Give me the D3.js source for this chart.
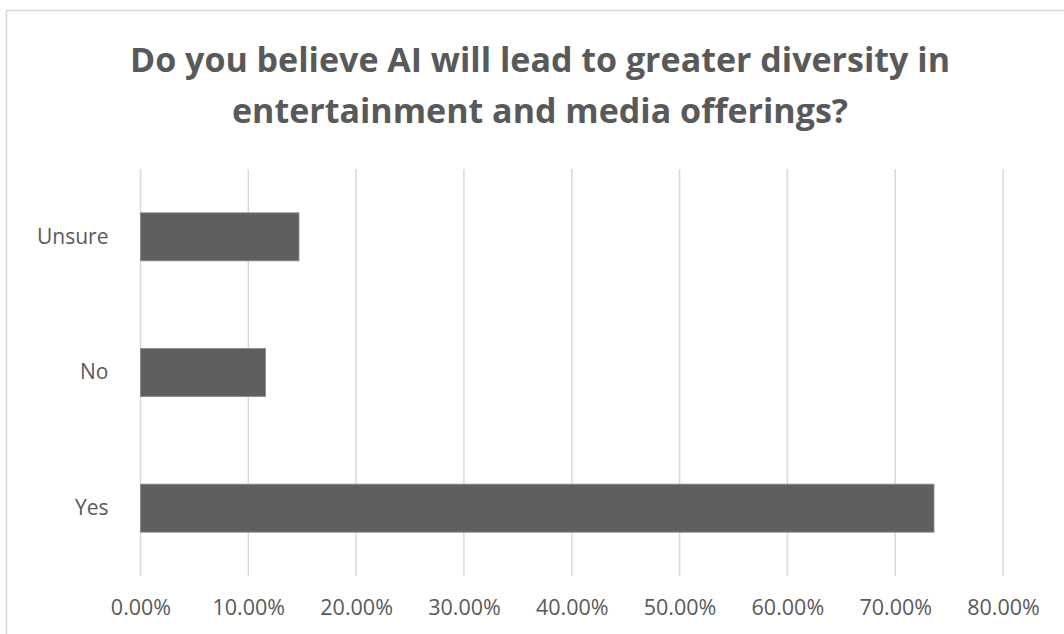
<html>
  <script src="https://d3js.org/d3.v7.min.js"></script>
  <style>
    body { margin: 0; background: #fff; }
    svg text { fill: #595959; font-family: "Open Sans", sans-serif; }
  </style>
  <body>
    <svg width="1064" height="634"></svg>
    <script>
      // survey answers, top to bottom
      var categories = ["Unsure", "No", "Yes"];
      var shares = [0.147, 0.116, 0.736];
      var tickValues = [0, 0.1, 0.2, 0.3, 0.4, 0.5, 0.6, 0.7, 0.8];
      var titleLines = [
        "Do you believe AI will lead to greater diversity in",
        "entertainment and media offerings?"
      ];

      var svg = d3.select("svg");

      // chart area border (runs off right/bottom like the original)
      svg.append("rect")
        .attr("x", 6.5).attr("y", 10.5)
        .attr("width", 1070).attr("height", 640)
        .attr("fill", "none")
        .attr("stroke", "#d9d9d9")
        .attr("stroke-width", 1.5);

      var x = d3.scaleLinear().domain([0, 0.8]).range([140.5, 1003]);
      var y = d3.scaleBand().domain(categories).range([169, 576])
        .paddingInner(0.646).paddingOuter(0.323);

      // gridlines
      svg.append("g").selectAll("line")
        .data(tickValues)
        .enter().append("line")
        .attr("x1", function (d) { return x(d); })
        .attr("x2", function (d) { return x(d); })
        .attr("y1", 169).attr("y2", 576)
        .attr("stroke", "#d9d9d9")
        .attr("stroke-width", 1.5);

      // bars
      svg.append("g").selectAll("rect")
        .data(categories)
        .enter().append("rect")
        .attr("x", x(0))
        .attr("y", function (d) { return y(d); })
        .attr("width", function (d, i) { return x(shares[i]) - x(0); })
        .attr("height", y.bandwidth())
        .attr("fill", "#5f5f5f")
        .attr("stroke", "#8a8a8a")
        .attr("stroke-width", 0.8);

      // x axis labels
      var xAxis = d3.axisBottom(x)
        .tickValues(tickValues)
        .tickFormat(d3.format(".2%"))
        .tickSize(0)
        .tickPadding(0);
      var gx = svg.append("g")
        .attr("transform", "translate(0,600)")
        .call(xAxis);
      gx.select(".domain").remove();
      gx.selectAll("text")
        .attr("dy", "0.71em")
        .style("font-size", "21.5px")
        .attr("fill", "#595959");

      // y axis labels
      var yAxis = d3.axisLeft(y).tickSize(0).tickPadding(32);
      var gy = svg.append("g")
        .attr("transform", "translate(" + x(0) + ",0)")
        .call(yAxis);
      gy.select(".domain").remove();
      gy.selectAll("text")
        .style("font-size", "21px")
        .attr("fill", "#595959");

      // title
      svg.append("g").selectAll("text")
        .data(titleLines)
        .enter().append("text")
        .attr("x", 540)
        .attr("y", function (d, i) { return 72 + i * 51; })
        .attr("text-anchor", "middle")
        .style("font-size", "34px")
        .style("font-weight", "bold")
        .text(function (d) { return d; });
    </script>
  </body>
</html>
